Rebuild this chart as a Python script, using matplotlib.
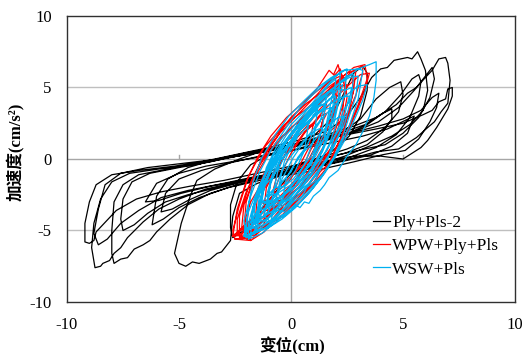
import matplotlib
matplotlib.use("Agg")
import matplotlib.pyplot as plt
import numpy as np

# Ply+Pls-2 (black), one continuous record, cycle by cycle
ply_pts = [
    (0.0, -0.6), (1.0, -0.1), (1.8, 0.5), (2.6, 1.6), (3.1, 3.0), (3.4, 4.8), (3.4, 6.0), (3.2, 6.5),
    (2.8, 6.0), (2.3, 4.4), (1.8, 2.8), (1.0, 1.6), (0.0, 0.9), (-1.0, 0.3), (-1.8, -0.4), (-2.4, -1.6),
    (-2.7, -3.2), (-2.7, -4.8), (-2.6, -5.5), (-2.1, -5.0), (-1.5, -3.9), (-0.8, -2.5), (0.0, -1.0),
    (0.4, -0.3), (1.5, 0.2), (2.5, 0.7), (3.4, 1.3), (4.2, 2.2), (4.8, 3.3), (5.0, 4.5), (4.9, 5.4),
    (4.4, 5.0), (3.8, 4.2), (3.1, 2.8), (2.3, 1.9), (1.2, 1.4), (0.0, 1.0), (-1.2, 0.6), (-2.3, 0.0),
    (-3.4, -0.7), (-4.2, -1.5), (-4.5, -2.6), (-4.9, -4.5), (-5.2, -6.6), (-5.0, -7.3), (-4.7, -7.5),
    (-4.4, -7.2), (-4.1, -7.3), (-3.6, -7.0), (-3.3, -6.6), (-3.1, -6.5), (-2.7, -5.7), (-2.6, -4.0),
    (-2.3, -2.4), (-1.5, -1.7), (-0.5, -1.2),
    (0.0, -0.9), (1.2, -0.4), (2.4, 0.2), (3.5, 0.9), (4.5, 1.6), (5.3, 2.4), (5.9, 3.4), (6.1, 4.8),
    (6.0, 6.2), (5.8, 7.0), (5.65, 7.5), (5.4, 7.0), (5.2, 7.1), (4.6, 6.9), (4.3, 6.4), (4.0, 6.3),
    (3.6, 5.7), (3.1, 4.3), (2.4, 2.8), (1.5, 1.9), (0.3, 1.3), (-1.0, 0.8), (-2.5, 0.3), (-4.0, -0.2),
    (-5.5, -0.7), (-6.8, -1.1), (-7.5, -1.8), (-7.9, -3.0), (-8.0, -5.0), (-8.0, -6.6), (-7.9, -7.3),
    (-7.6, -7.0), (-7.3, -6.9), (-7.0, -6.3), (-6.6, -6.0), (-6.3, -5.7), (-6.0, -5.1), (-5.4, -4.2),
    (-4.6, -3.2), (-3.6, -2.4), (-2.4, -1.8), (-1.2, -1.3),
    (0.0, -1.0), (1.3, -0.5), (2.6, 0.0), (3.8, 0.5), (4.8, 0.7), (5.6, 1.5), (6.1, 2.2), (6.4, 2.6),
    (6.7, 3.3), (7.0, 3.9), (7.1, 5.5), (7.0, 6.7), (6.9, 7.1), (6.6, 7.0), (6.3, 6.2), (6.0, 5.7),
    (5.6, 5.0), (5.2, 4.6), (4.7, 3.8), (3.8, 2.9), (2.8, 2.3), (1.6, 1.7), (0.3, 1.1), (-1.2, 0.6),
    (-2.7, 0.1), (-4.3, -0.4), (-5.9, -0.7), (-7.2, -1.0), (-8.0, -1.6), (-8.5, -2.8), (-8.8, -4.5),
    (-8.9, -6.2), (-8.75, -7.6), (-8.5, -7.5), (-8.4, -7.3), (-8.1, -7.1), (-7.9, -6.6), (-7.6, -6.2),
    (-7.3, -5.5), (-6.6, -4.4), (-5.9, -3.5), (-5.0, -2.8), (-3.8, -2.1), (-2.4, -1.6), (-1.0, -1.2),
    (0.0, -0.7), (1.4, -0.2), (2.8, 0.2), (4.0, 0.2), (5.0, 0.0), (5.8, 0.8), (6.1, 1.3), (6.5, 2.2),
    (7.0, 3.5), (7.2, 4.4), (7.2, 5.0), (7.0, 4.9), (6.9, 4.2), (6.6, 4.0), (6.3, 3.4), (5.9, 3.1),
    (5.0, 2.5), (3.8, 2.1), (2.5, 1.7), (1.0, 1.2), (-0.5, 0.7), (-2.0, 0.3), (-3.6, -0.1),
    (-5.2, -0.5), (-6.8, -0.8), (-8.0, -1.1), (-8.7, -1.8), (-9.0, -3.0), (-9.2, -4.5), (-9.2, -5.8),
    (-9.0, -5.9), (-8.8, -5.7), (-8.7, -5.1), (-8.4, -4.6), (-7.8, -3.6), (-6.9, -2.8), (-5.8, -2.3),
    (-4.5, -1.9), (-3.0, -1.5), (-1.5, -1.0),
    (0.0, -0.5), (1.5, 0.1), (3.0, 0.6), (4.2, 1.0), (5.0, 1.8), (5.7, 2.9), (6.2, 4.3), (6.4, 5.6),
    (6.3, 6.4), (6.0, 5.8), (5.5, 4.8), (4.8, 3.6), (3.9, 2.6), (2.8, 1.9), (1.4, 1.3), (0.0, 0.8),
    (-1.6, 0.4), (-3.2, 0.0), (-4.8, -0.3), (-6.4, -0.6), (-7.6, -1.0), (-8.3, -1.8), (-8.6, -3.5),
    (-8.8, -5.2), (-8.6, -6.0), (-8.2, -5.6), (-7.6, -4.5), (-6.8, -3.6), (-5.8, -2.7), (-4.6, -2.2),
    (-3.0, -1.7), (-1.5, -1.2),
    (0.0, -0.8), (1.3, -0.4), (2.6, 0.1), (3.8, 0.8), (4.7, 1.7), (5.3, 2.9), (5.7, 4.4), (5.8, 5.4),
    (5.7, 5.9), (5.4, 5.6), (4.9, 4.5), (4.2, 3.3), (3.3, 2.4), (2.2, 1.8), (1.0, 1.3), (-0.4, 0.8),
    (-2.0, 0.4), (-3.6, -0.2), (-5.0, -0.6), (-6.3, -1.0), (-7.1, -1.6), (-7.5, -2.8), (-7.6, -4.2),
    (-7.5, -5.0), (-7.0, -4.6), (-6.4, -3.8), (-5.6, -3.0), (-4.6, -2.5), (-3.3, -2.0), (-1.8, -1.4),
    (0.0, -0.6), (1.2, -0.1), (2.4, 0.4), (3.4, 1.0), (4.1, 1.9), (4.5, 2.8), (4.5, 3.5), (4.1, 3.2),
    (3.4, 2.4), (2.4, 1.7), (1.2, 1.1), (0.0, 0.6), (-1.4, 0.2), (-2.8, -0.3), (-4.0, -0.8),
    (-5.0, -1.4), (-5.6, -2.4), (-5.8, -3.7), (-5.3, -3.5), (-4.6, -2.9), (-3.6, -2.2), (-2.4, -1.7),
    (-1.2, -1.2),
    (0.0, -0.9), (1.3, -0.5), (2.5, -0.1), (3.6, 0.3), (4.5, 0.9), (5.2, 1.8), (5.5, 3.0), (5.1, 2.7),
    (4.3, 2.1), (3.2, 1.6), (2.0, 1.2), (0.7, 0.8), (-0.8, 0.3), (-2.3, -0.1), (-3.8, -0.5),
    (-5.0, -1.0), (-6.0, -1.7), (-6.5, -3.0), (-5.9, -2.9), (-4.9, -2.4), (-3.6, -1.9), (-2.2, -1.5),
    (-1.0, -1.1),
    (0.0, -1.1), (1.4, -0.7), (2.8, -0.2), (4.1, 0.3), (5.1, 0.6), (5.7, 1.4), (6.2, 2.6), (6.5, 3.6),
    (6.6, 4.6), (6.3, 4.3), (5.8, 3.4), (5.0, 2.8), (3.9, 2.3), (2.6, 1.8), (1.2, 1.4), (-0.3, 0.9),
    (-1.8, 0.5), (-3.3, 0.0), (-4.6, -0.6), (-5.5, -1.4), (-6.0, -2.6), (-6.2, -4.6), (-5.7, -4.2),
    (-5.0, -3.4), (-4.1, -2.7), (-2.8, -2.0), (-1.4, -1.5), (0.0, -0.9),
]

# WPW+Ply+Pls (red)
wpw_pts = [
    (-2.5, -5.6), (-1.7, -5.5), (-1.0, -4.5), (-0.3, -3.2), (0.5, -2.3), (1.3, -1.4), (2.0, 0.3),
    (2.4, 1.6), (3.0, 3.8), (3.4, 5.6), (3.3, 6.6), (2.8, 6.4), (2.2, 5.6), (1.5, 4.6), (0.6, 3.4),
    (-0.3, 2.4), (-1.2, 0.8), (-1.9, -1.2), (-2.3, -3.2), (-2.6, -5.0), (-2.5, -5.6),
    (-1.8, -5.7), (-1.2, -5.1), (-0.6, -4.0), (0.1, -2.9), (0.8, -1.8), (1.4, -0.5), (1.9, 0.9),
    (2.3, 2.6), (2.5, 4.3), (2.4, 5.6), (2.2, 6.0), (2.1, 6.6), (1.9, 5.9), (1.7, 6.2), (1.2, 5.0),
    (0.5, 3.7), (-0.3, 2.3), (-1.0, 0.7), (-1.6, -1.0), (-2.0, -3.0), (-2.1, -4.8), (-1.8, -5.7),
    (-2.4, -5.3), (-1.8, -5.0), (-1.1, -4.1), (-0.4, -3.0), (0.4, -1.9), (1.1, -0.7), (1.8, 0.8),
    (2.4, 2.6), (2.9, 4.5), (3.2, 6.0), (3.2, 6.5), (2.7, 6.1), (2.0, 5.0), (1.2, 3.8), (0.3, 2.6),
    (-0.6, 1.3), (-1.4, -0.4), (-2.0, -2.3), (-2.4, -4.2), (-2.4, -5.3),
    (-2.2, -4.8), (-1.5, -4.4), (-0.8, -3.5), (-0.1, -2.6), (0.7, -1.6), (1.4, -0.3), (2.0, 1.3),
    (2.5, 3.0), (2.8, 4.8), (2.7, 5.9), (2.2, 5.5), (1.5, 4.4), (0.7, 3.2), (-0.1, 2.0), (-0.9, 0.6),
    (-1.6, -1.2), (-2.1, -3.2), (-2.2, -4.8),
    (-2.0, -5.2), (-1.4, -5.0), (-0.8, -4.4), (-0.2, -3.9), (0.4, -3.0), (1.0, -2.0), (1.5, -0.9),
    (1.9, 0.3), (2.3, 1.8), (2.6, 3.4), (2.8, 4.9), (2.9, 6.2), (2.5, 6.0), (2.0, 5.4), (1.4, 4.7),
    (0.7, 3.9), (0.0, 2.9), (-0.7, 1.6), (-1.3, 0.1), (-1.7, -1.6), (-1.9, -3.4), (-2.0, -5.2),
    (-1.6, -4.3), (-1.0, -3.8), (-0.4, -2.9), (0.3, -1.8), (0.9, -0.6), (1.5, 1.0), (1.9, 2.9),
    (2.0, 5.0), (1.6, 4.5), (1.0, 3.4), (0.3, 2.2), (-0.4, 0.9), (-1.0, -0.7), (-1.5, -2.6), (-1.6, -4.3),
    (-2.6, -5.4), (-2.0, -5.3), (-1.4, -4.6), (-0.8, -3.6), (-0.2, -2.5), (0.4, -1.3), (1.0, 0.1),
    (1.5, 1.6), (1.9, 3.2), (2.2, 4.6), (2.2, 5.8), (1.8, 5.5), (1.2, 4.8), (0.5, 3.9), (-0.2, 2.9),
    (-0.9, 1.6), (-1.5, 0.1), (-2.0, -1.6), (-2.4, -3.5), (-2.6, -5.4),
    (-1.2, -3.4), (-0.6, -2.8), (0.0, -1.8), (0.6, -0.6), (1.2, 1.2), (1.6, 4.0), (1.3, 3.5),
    (0.7, 2.3), (0.0, 1.0), (-0.6, -0.5), (-1.1, -2.0), (-1.2, -3.4),
    (-1.2, -4.6), (-0.6, -4.2), (0.1, -3.2), (0.8, -2.1), (1.5, -0.8), (2.1, 0.6), (2.6, 2.1),
    (3.0, 3.6), (3.3, 4.8), (3.5, 6.0), (3.1, 5.9), (2.6, 5.2), (2.0, 4.3), (1.3, 3.1), (0.6, 1.8),
    (0.0, 0.4), (-0.5, -1.2), (-0.9, -2.9), (-1.2, -4.6),
    (-2.3, -5.6), (-1.6, -5.3), (-0.9, -4.3), (-0.2, -3.3), (0.6, -2.1), (1.3, -0.7), (1.9, 1.1),
    (2.3, 3.2), (2.4, 5.0), (2.2, 6.3), (1.8, 5.6), (1.1, 4.4), (0.3, 3.1), (-0.5, 1.8), (-1.3, 0.0),
    (-1.9, -2.0), (-2.3, -4.0), (-2.3, -5.6),
    (-2.1, -4.9), (-1.8, -4.8), (-1.5, -4.3), (-1.1, -3.9), (-0.8, -3.2), (-0.4, -2.8), (-0.1, -2.0),
    (0.3, -1.4), (0.6, -0.5), (1.0, 0.2), (1.3, 1.3), (1.6, 2.1), (1.8, 3.3), (2.0, 4.0), (2.1, 5.2),
    (1.8, 5.0), (1.5, 4.3), (1.1, 3.9), (0.8, 3.0), (0.3, 2.5), (0.0, 1.5), (-0.5, 0.8), (-0.8, -0.3),
    (-1.2, -1.0), (-1.5, -2.2), (-1.8, -3.0), (-2.0, -4.0), (-2.1, -4.9),
    (-1.5, -3.8), (-0.9, -3.5), (-0.3, -2.8), (0.4, -1.9), (1.0, -0.8), (1.6, 0.6), (2.0, 2.1),
    (2.3, 3.7), (2.5, 5.2), (2.1, 5.0), (1.5, 4.2), (0.8, 3.2), (0.1, 2.0), (-0.5, 0.7), (-1.0, -0.9),
    (-1.3, -2.4), (-1.5, -3.8),
    (-1.4, -3.0), (-1.0, -2.9), (-0.6, -2.2), (-0.2, -1.8), (0.2, -0.9), (0.6, -0.3), (0.9, 0.7),
    (1.2, 1.4), (1.4, 2.6), (1.6, 3.2), (1.3, 3.0), (1.0, 2.4), (0.6, 1.9), (0.2, 1.0), (-0.2, 0.4),
    (-0.6, -0.6), (-0.9, -1.2), (-1.2, -2.1), (-1.4, -3.0),
    (-0.3, -3.6), (0.1, -3.1), (0.5, -2.4), (0.9, -1.9), (1.3, -0.9), (1.7, -0.3), (2.0, 0.8),
    (2.3, 1.6), (2.5, 2.8), (2.7, 3.5), (2.5, 3.2), (2.2, 2.6), (1.8, 2.0), (1.4, 1.1), (1.0, 0.5),
    (0.6, -0.6), (0.3, -1.2), (0.0, -2.3), (-0.3, -3.6),
    (-0.8, -2.2), (-0.3, -1.7), (0.3, -0.7), (0.8, 0.8), (1.0, 2.5), (0.6, 2.1), (0.0, 1.0),
    (-0.5, -0.4), (-0.8, -2.2),
]

# WSW+Pls (blue)
wsw_pts = [
    (-2.0, -5.5), (-1.5, -5.1), (-1.0, -4.7), (-0.5, -4.0), (0.0, -3.6), (0.2, -3.2), (0.4, -3.4),
    (0.6, -3.0), (0.8, -3.1), (1.0, -2.6), (1.3, -2.2), (1.5, -1.8), (1.7, -1.3), (2.1, -0.8),
    (2.5, 0.2), (2.9, 1.0), (3.2, 1.9), (3.5, 3.0), (3.7, 4.3), (3.8, 5.5), (3.8, 6.8), (3.5, 6.6),
    (3.0, 6.3), (2.4, 6.2), (1.7, 5.5), (1.1, 4.7), (0.4, 3.6), (-0.3, 2.0), (-0.9, 0.6),
    (-1.4, -0.9), (-1.8, -2.6), (-2.1, -4.3), (-2.0, -5.5),
    (-1.8, -5.3), (-1.2, -4.9), (-0.6, -4.0), (0.0, -2.9), (0.6, -1.8), (1.2, -0.5), (1.7, 1.0),
    (2.1, 2.8), (2.4, 4.6), (2.5, 6.3), (2.2, 6.1), (1.7, 5.3), (1.1, 4.2), (0.5, 3.0), (-0.2, 1.7),
    (-0.8, 0.2), (-1.3, -1.5), (-1.7, -3.4), (-1.8, -5.3),
    (-1.6, -5.0), (-1.0, -4.8), (-0.4, -4.2), (0.2, -3.4), (0.8, -2.4), (1.4, -1.2), (1.9, 0.1),
    (2.3, 1.5), (2.6, 3.0), (2.9, 4.4), (3.0, 5.8), (2.6, 5.7), (2.0, 5.1), (1.4, 4.4), (0.7, 3.5),
    (0.0, 2.4), (-0.6, 1.0), (-1.1, -0.6), (-1.4, -2.4), (-1.6, -5.0),
    (-1.9, -5.6), (-1.3, -5.2), (-0.6, -4.3), (0.1, -3.3), (0.8, -2.2), (1.5, -0.9), (2.1, 0.6),
    (2.6, 2.3), (3.0, 4.2), (3.2, 6.2), (3.0, 6.3), (2.4, 5.6), (1.7, 4.7), (1.0, 3.6), (0.2, 2.2),
    (-0.5, 0.7), (-1.1, -1.0), (-1.6, -2.8), (-1.9, -4.5), (-1.9, -5.6),
    (-1.5, -4.8), (-0.9, -4.3), (-0.3, -3.4), (0.3, -2.3), (0.9, -1.0), (1.4, 0.6), (1.8, 2.6),
    (2.0, 5.6), (1.7, 5.2), (1.2, 4.2), (0.6, 3.0), (0.0, 1.7), (-0.6, 0.2), (-1.1, -1.5),
    (-1.4, -3.2), (-1.5, -4.8),
    (-2.0, -4.9), (-1.4, -4.6), (-0.8, -3.9), (-0.2, -3.0), (0.4, -1.9), (0.9, -0.7), (1.4, 0.7),
    (1.8, 2.3), (2.1, 4.0), (2.2, 6.0), (1.8, 5.7), (1.2, 5.0), (0.6, 4.1), (-0.1, 3.0), (-0.7, 1.7),
    (-1.3, 0.1), (-1.7, -1.6), (-1.9, -3.2), (-2.0, -4.9),
    (-1.0, -3.8), (-0.6, -3.6), (-0.3, -3.7), (0.1, -3.0), (0.5, -2.6), (0.7, -2.0), (1.1, -1.5),
    (1.3, -0.6), (1.7, 0.3), (1.9, 1.4), (2.2, 2.2), (2.3, 3.3), (2.6, 4.0), (2.7, 5.0), (2.4, 4.8),
    (2.1, 4.9), (1.7, 4.1), (1.2, 3.6), (0.9, 2.7), (0.4, 2.1), (0.0, 1.0), (-0.4, 0.4), (-0.6, -0.7),
    (-0.9, -1.5), (-1.0, -2.6), (-1.0, -3.8),
    (-1.2, -4.0), (-0.7, -3.5), (-0.1, -2.5), (0.5, -1.3), (1.0, 0.2), (1.4, 2.1), (1.6, 4.6),
    (1.3, 4.2), (0.8, 3.1), (0.2, 1.8), (-0.4, 0.2), (-0.9, -1.7), (-1.2, -4.0),
    (-0.9, -4.4), (-0.3, -4.0), (0.3, -3.2), (0.9, -2.2), (1.5, -1.0), (2.0, 0.2), (2.5, 1.6),
    (2.9, 3.0), (3.2, 4.1), (3.4, 5.2), (3.0, 5.1), (2.5, 4.5), (1.9, 3.7), (1.3, 2.7), (0.7, 1.5),
    (0.1, 0.1), (-0.4, -1.4), (-0.7, -2.9), (-0.9, -4.4),
    (-1.6, -4.2), (-1.2, -4.0), (-0.9, -3.4), (-0.5, -3.1), (-0.2, -2.3), (0.2, -1.9), (0.5, -1.0),
    (0.9, -0.4), (1.1, 0.7), (1.5, 1.4), (1.6, 2.5), (1.9, 3.3), (2.0, 4.4), (1.7, 4.2), (1.4, 3.5),
    (1.0, 3.1), (0.7, 2.2), (0.3, 1.6), (0.0, 0.6), (-0.5, -0.1), (-0.8, -1.2), (-1.2, -1.9),
    (-1.4, -3.0), (-1.6, -4.2),
    (-0.9, -3.2), (-0.4, -2.6), (0.1, -1.7), (0.6, -0.4), (1.0, 1.3), (1.2, 3.6), (0.9, 3.2),
    (0.4, 2.2), (-0.1, 0.9), (-0.6, -0.9), (-0.9, -3.2),
    (-1.3, -3.0), (-0.8, -2.9), (-0.2, -2.4), (0.4, -1.6), (1.0, -0.6), (1.6, 0.6), (2.0, 1.8),
    (2.4, 3.1), (2.6, 4.4), (2.2, 4.3), (1.6, 3.7), (0.9, 2.8), (0.2, 1.7), (-0.4, 0.5), (-0.9, -0.9),
    (-1.2, -2.0), (-1.3, -3.0),
    (-0.4, -3.0), (0.0, -2.8), (0.4, -2.2), (0.8, -1.7), (1.2, -0.8), (1.6, -0.1), (1.9, 1.0),
    (2.2, 1.9), (2.4, 3.0), (2.1, 2.9), (1.7, 2.4), (1.3, 1.8), (0.9, 1.0), (0.5, 0.4), (0.1, -0.5),
    (-0.2, -1.3), (-0.4, -3.0),
    (-0.6, -2.3), (-0.2, -1.7), (0.2, -0.8), (0.6, 0.6), (0.8, 2.6), (0.5, 2.2), (0.1, 1.2),
    (-0.3, -0.2), (-0.6, -2.3),
    (-2.1, -5.4), (-1.5, -5.0), (-0.8, -4.2), (-0.1, -3.2), (0.6, -2.1), (1.3, -0.8), (1.9, 0.8),
    (2.4, 2.5), (2.7, 4.3), (2.8, 5.9), (2.5, 5.8), (2.0, 5.1), (1.3, 4.0), (0.6, 2.8), (-0.1, 1.4),
    (-0.8, -0.1), (-1.4, -1.8), (-1.9, -3.7), (-2.1, -5.4),
    (-1.8, -4.4), (-1.4, -4.1), (-1.1, -3.3), (-0.7, -2.6), (-0.4, -1.6), (0.0, -0.9), (0.3, 0.1),
    (0.7, 0.9), (1.0, 1.9), (1.3, 2.6), (1.5, 3.8), (1.2, 3.7), (0.8, 3.2), (0.4, 2.6), (0.0, 1.8),
    (-0.4, 1.0), (-0.8, 0.0), (-1.1, -0.9), (-1.4, -2.0), (-1.6, -3.0), (-1.8, -4.4),
    (-1.1, -2.6), (-0.6, -2.4), (0.0, -1.8), (0.6, -0.9), (1.1, 0.2), (1.5, 1.5), (1.8, 3.6),
    (1.4, 3.4), (0.8, 2.7), (0.2, 1.7), (-0.4, 0.5), (-0.8, -0.9), (-1.1, -2.6),
    (-0.7, -2.0), (-0.3, -1.9), (0.1, -1.4), (0.5, -0.6), (0.9, 0.2), (1.2, 1.2), (1.4, 2.2),
    (1.1, 2.0), (0.7, 1.5), (0.3, 0.8), (-0.1, 0.0), (-0.4, -0.8), (-0.7, -2.0),
    (-1.4, -3.6), (-0.8, -3.2), (-0.2, -2.3), (0.4, -1.2), (1.0, 0.1), (1.5, 1.9), (1.9, 4.8),
    (1.6, 4.6), (1.0, 3.7), (0.4, 2.5), (-0.3, 1.0), (-0.9, -0.6), (-1.3, -2.1), (-1.4, -3.6),
    (-1.7, -4.6), (-1.1, -4.2), (-0.5, -3.3), (0.2, -2.2), (0.8, -1.0), (1.4, 0.5), (1.9, 2.4),
    (2.3, 5.2), (2.0, 4.9), (1.4, 4.0), (0.8, 2.9), (0.1, 1.5), (-0.6, 0.0), (-1.2, -1.6),
    (-1.6, -3.2), (-1.7, -4.6),
]

series = [
    ("Ply+Pls-2", ply_pts, "#000000"),
    ("WPW+Ply+Pls", wpw_pts, "#ff0000"),
    ("WSW+Pls", wsw_pts, "#00b0f0"),
]

ticks = [-10, -5, 0, 5, 10]

plt.rcParams["font.family"] = ["Liberation Serif", "Noto Sans CJK SC"]
plt.rcParams["axes.unicode_minus"] = False

fig = plt.figure(figsize=(5.25, 3.54), dpi=100)
ax = fig.add_axes([0.1276, 0.1469, 0.8534, 0.8079])

for t in ticks:
    if t not in (0, -10, 10):
        ax.axhline(t, color="#bfbfbf", lw=1.0, zorder=0)
        ax.plot([t, t], [0, 0.28], color="#a6a6a6", lw=1.0, zorder=0)
ax.axhline(0, color="#a6a6a6", lw=1.0, zorder=0)
ax.axvline(0, color="#a6a6a6", lw=1.0, zorder=0)

for label, pts, color in series:
    arr = np.array(pts)
    ax.plot(arr[:, 0], arr[:, 1], color=color, lw=0.9, label=label, zorder=2)

ax.set_xlim(-10, 10)
ax.set_ylim(-10, 10)
ax.set_xticks(ticks)
ax.set_yticks(ticks)
ax.tick_params(length=0, labelsize=12, pad=11)
for s in ax.spines.values():
    s.set_color("#303030")
    s.set_linewidth(1.0)

ax.set_xlabel("变位(cm)", fontsize=12, fontweight="bold")
ax.set_ylabel("加速度(cm/s²)", fontsize=12, fontweight="bold")
ax.xaxis.set_label_coords(0.502, -0.122)
ax.yaxis.set_label_coords(-0.094, 0.526)

ax.legend(loc="upper left", bbox_to_anchor=(0.66, 0.34), frameon=False,
          fontsize=12.5, handlelength=1.0, handletextpad=0.1, labelspacing=0.4,
          borderaxespad=0.2)

fig.savefig("out.png", dpi=100)
